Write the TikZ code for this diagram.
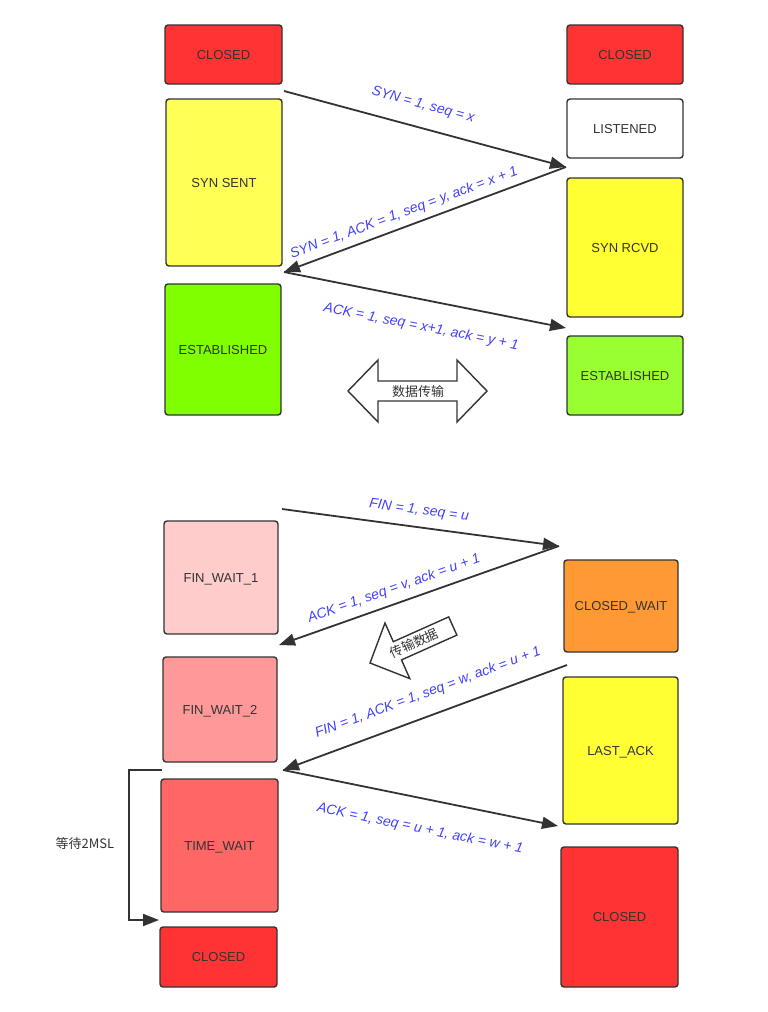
\documentclass[tikz,border=0pt]{standalone}
\usepackage{fontspec}
\setmainfont{Liberation Sans}
\newfontfamily\cjk{Noto Sans CJK SC}
\usetikzlibrary{arrows.meta}

\definecolor{edge}{HTML}{333333}
\definecolor{lblblue}{HTML}{4040FF}
\definecolor{closedred}{HTML}{FF3333}
\definecolor{sentyellow}{HTML}{FFFF55}
\definecolor{rcvdyellow}{HTML}{FFFF33}
\definecolor{estgreen}{HTML}{80FF00}
\definecolor{estlime}{HTML}{99FF33}
\definecolor{waitone}{HTML}{FFCCCC}
\definecolor{waittwo}{HTML}{FF9999}
\definecolor{timewait}{HTML}{FF6666}
\definecolor{closewait}{HTML}{FF9933}

\begin{document}
\begin{tikzpicture}[x=1pt, y=-1pt,
    state/.style={draw=edge, line width=1.4pt, rounded corners=3pt, text=edge,
      font=\fontsize{13}{15}\selectfont, inner sep=0pt, text height=9.3pt, text depth=0pt},
    msg/.style={draw=edge, line width=1.8pt, -{Triangle[length=16pt, width=12pt]}},
    lbl/.style={text=lblblue, font=\fontsize{14}{16}\selectfont\itshape, inner sep=0pt},
    hollow/.style={draw=edge, line width=1.4pt, fill=white, line join=miter},
    zh/.style={text=edge, font=\fontsize{13}{15}\cjk, inner sep=0pt}]
  \useasboundingbox (0,0) rectangle (768,1012);

  % connection setup
  \node[state, fill=closedred, minimum width=117pt, minimum height=59pt] (cclosed) at (223.5, 54.5) {CLOSED};
  \node[state, fill=sentyellow, minimum width=116pt, minimum height=167pt] (synsent) at (224, 182.5) {SYN SENT};
  \node[state, fill=estgreen, minimum width=116pt, minimum height=131pt] (cest) at (223, 349.5) {ESTABLISHED};
  \node[state, fill=closedred, minimum width=116pt, minimum height=59pt] (sclosed) at (625, 54.5) {CLOSED};
  \node[state, fill=white, minimum width=116pt, minimum height=59pt] (listened) at (625, 128.5) {LISTENED};
  \node[state, fill=rcvdyellow, minimum width=116pt, minimum height=139pt] (synrcvd) at (625, 247.5) {SYN RCVD};
  \node[state, fill=estlime, minimum width=116pt, minimum height=79pt] (sest) at (625, 375.5) {ESTABLISHED};

  \coordinate (p1) at (284, 91);
  \coordinate (p2) at (566, 167);
  \coordinate (p3) at (284, 272);
  \coordinate (p4) at (566, 328);
  \draw[msg] (p1) -- (p2);
  \draw[msg] (p2) -- (p3);
  \draw[msg] (p3) -- (p4);
  \node[lbl, rotate=-15] (syn) at (423, 105) {SYN = 1, seq = x};
  \node[lbl, rotate=20.4] (synack) at (404, 213) {SYN = 1, ACK = 1, seq = y, ack = x + 1};
  \node[lbl, rotate=-11.2] (ack) at (421, 327) {ACK = 1, seq = x+1, ack = y + 1};

  \draw[hollow] (348,391) -- (378,360) -- (378,381) -- (457,381) -- (457,360) -- (487,391)
    -- (457,422) -- (457,401) -- (378,401) -- (378,422) -- cycle;
  \node[zh] (data) at (418, 392) {数据传输};

  % connection release
  \node[state, fill=waitone, minimum width=114pt, minimum height=113pt] (finone) at (221, 577.5) {FIN\_WAIT\_1};
  \node[state, fill=waittwo, minimum width=114pt, minimum height=105pt] (fintwo) at (220, 709.5) {FIN\_WAIT\_2};
  \node[state, fill=timewait, minimum width=117pt, minimum height=133pt] (timew) at (219.5, 845.5) {TIME\_WAIT};
  \node[state, fill=closedred, minimum width=117pt, minimum height=60pt] (cend) at (218.5, 957) {CLOSED};
  \node[state, fill=closewait, minimum width=114pt, minimum height=92pt] (closew) at (621, 606) {CLOSED\_WAIT};
  \node[state, fill=rcvdyellow, minimum width=115pt, minimum height=147pt] (lastack) at (620.5, 750.5) {LAST\_ACK};
  \node[state, fill=closedred, minimum width=117pt, minimum height=140pt] (send) at (619.5, 917) {CLOSED};

  \coordinate (q1) at (282, 509);
  \coordinate (q2) at (559, 546);
  \coordinate (q3) at (279, 645);
  \coordinate (q4) at (567, 665);
  \coordinate (q5) at (283, 770);
  \coordinate (q6) at (558, 826);
  \draw[msg] (q1) -- (q2);
  \draw[msg] (q2) -- (q3);
  \draw[msg] (q4) -- (q5);
  \draw[msg] (q5) -- (q6);
  \node[lbl, rotate=-7.6] (fin) at (419, 511) {FIN = 1, seq = u};
  \node[lbl, rotate=19.5] (finack) at (394, 589) {ACK = 1, seq = v, ack = u + 1};
  \node[lbl, rotate=20.3] (fin2) at (428, 693) {FIN = 1, ACK = 1, seq = w, ack = u + 1};
  \node[lbl, rotate=-11.5] (lastackmsg) at (420, 829) {ACK = 1, seq = u + 1, ack = w + 1};

  \draw[hollow] (370,663) -- (385,623) -- (393.3,641.7) -- (448.7,616.9) -- (456.9,635.1)
    -- (401.5,659.9) -- (409.8,678.6) -- cycle;
  \node[zh, rotate=24] (xfer) at (414, 643) {传输数据};

  \coordinate (w1) at (162, 770);
  \coordinate (w2) at (159, 920);
  \draw[msg] (w1) -- (129, 770) |- (w2);
  \node[zh] (msl) at (85, 844) {等待2MSL};
\end{tikzpicture}
\end{document}
